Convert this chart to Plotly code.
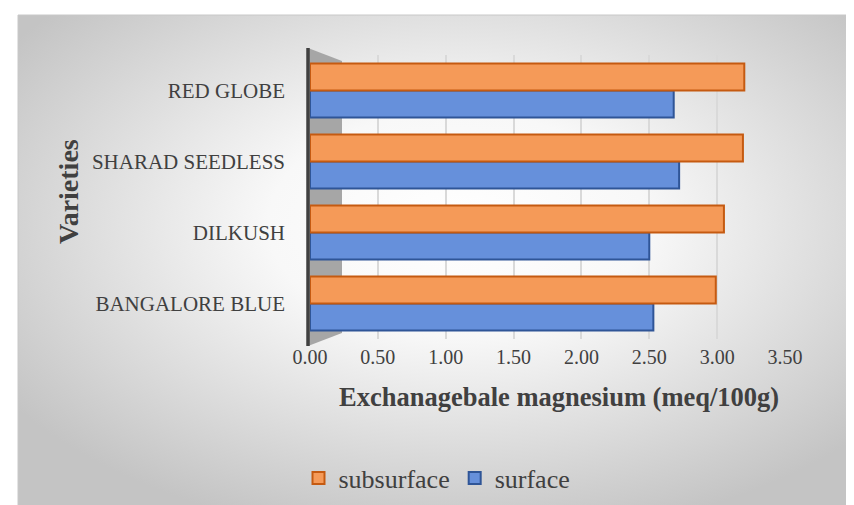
import base64
import plotly.graph_objects as go

# ---------------- data ----------------
varieties = ["BANGALORE BLUE", "DILKUSH", "SHARAD SEEDLESS", "RED GLOBE"]
surface = [2.53, 2.50, 2.72, 2.68]
subsurface = [2.99, 3.05, 3.19, 3.20]
x_ticks = [0.0, 0.5, 1.0, 1.5, 2.0, 2.5, 3.0, 3.5]
x_tick_labels = ["0.00", "0.50", "1.00", "1.50", "2.00", "2.50", "3.00", "3.50"]

# ---------------- layout geometry (pixels) ----------------
W, H = 854, 505
L, R, T, B = 302, 77, 47, 174
PW, PH = W - L - R, H - T - B


def px(xp):
    return (xp - L) / PW


def py(yp):
    return (H - B - yp) / PH


FONT = "Times New Roman, Liberation Serif, serif"

fig = go.Figure()
fig.add_trace(go.Bar(
    y=varieties, x=surface, orientation="h", name="surface",
    marker=dict(color="#6690db", line=dict(color="#2f5597", width=2)),
))
fig.add_trace(go.Bar(
    y=varieties, x=subsurface, orientation="h", name="subsurface",
    marker=dict(color="#f59a58", line=dict(color="#c55a11", width=2)),
))

# radial gradient background
svg = (
    '<svg xmlns="http://www.w3.org/2000/svg" width="844" height="498" viewBox="0 0 844 498" preserveAspectRatio="none">'
    '<defs><radialGradient id="g" cx="52%" cy="42%" r="64%">'
    '<stop offset="0" stop-color="#ffffff"/>'
    '<stop offset="0.35" stop-color="#f8f8f8"/>'
    '<stop offset="1" stop-color="#c4c4c4"/>'
    '</radialGradient></defs>'
    '<rect width="844" height="498" fill="url(#g)"/></svg>'
)
src = "data:image/svg+xml;base64," + base64.b64encode(svg.encode()).decode()

fig.update_layout(
    width=W, height=H,
    margin=dict(l=L, r=R, t=T, b=B, pad=0),
    paper_bgcolor="white", plot_bgcolor="rgba(0,0,0,0)",
    barmode="group", bargap=0.24, bargroupgap=0.0,
    font=dict(family=FONT, color="#404040"),
    images=[dict(source=src, xref="paper", yref="paper",
                 x=px(10), y=py(7), sizex=844 / PW, sizey=498 / PH,
                 xanchor="left", yanchor="top", sizing="stretch", layer="below")],
    xaxis=dict(range=[0, 3.5], tickvals=x_ticks, ticktext=x_tick_labels,
               showgrid=True, gridcolor="#d9d9d9", gridwidth=1.5,
               zeroline=False, showline=False, ticks="",
               tickfont=dict(size=20, color="#404040", family=FONT),
               ticklabelstandoff=4),
    yaxis=dict(showgrid=False, zeroline=False, showline=False, ticks="",
               tickfont=dict(size=21, color="#404040", family=FONT),
               ticklabelstandoff=24),
    showlegend=True,
    legend=dict(orientation="h", traceorder="reversed",
                x=px(429), y=py(470), xref="paper", yref="paper",
                xanchor="center", yanchor="middle",
                font=dict(size=26, color="#404040", family=FONT),
                bgcolor="rgba(0,0,0,0)"),
)

# left 3-D wall of the chart
fig.add_shape(type="path", xref="paper", yref="paper",
              path=f"M {px(300)},{py(40)} L {px(334)},{py(53)} L {px(334)},{py(325)} L {px(300)},{py(338)} Z",
              fillcolor="#a6a6a6", line=dict(width=0), layer="below")
fig.add_shape(type="line", xref="paper", yref="paper",
              x0=px(300), x1=px(300), y0=py(40), y1=py(338),
              line=dict(color="#404040", width=3.5), layer="below")
# chart border
fig.add_shape(type="rect", xref="paper", yref="paper",
              x0=px(10), x1=px(860), y0=py(7), y1=py(515),
              line=dict(color="#c8c8c8", width=1), fillcolor="rgba(0,0,0,0)", layer="below")

# axis titles
fig.add_annotation(text="<b>Exchanagebale magnesium (meq/100g)</b>", xref="paper", yref="paper",
                   x=px(551), y=py(389), xanchor="center", yanchor="middle", showarrow=False,
                   font=dict(size=26.5, color="#404040", family=FONT))
fig.add_annotation(text="<b>Varieties</b>", xref="paper", yref="paper",
                   x=px(60), y=py(184), xanchor="center", yanchor="middle", showarrow=False,
                   textangle=-90, font=dict(size=28, color="#404040", family=FONT))

fig.write_html("out.html")
